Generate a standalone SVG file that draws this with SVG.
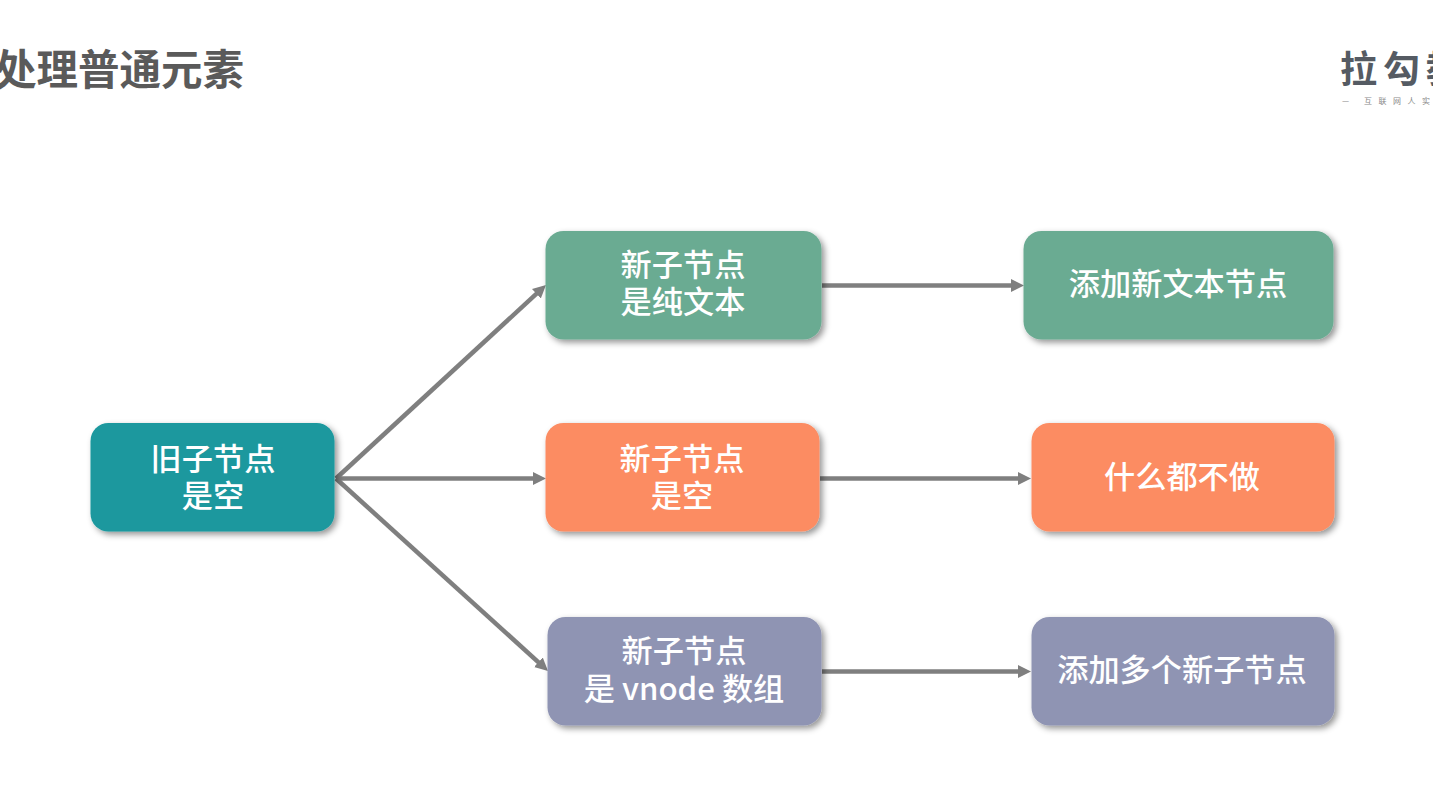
<svg xmlns="http://www.w3.org/2000/svg" width="1433" height="787" viewBox="0 0 1433 787">
<style>
text{font-family:"Noto Sans CJK SC","Noto Sans",sans-serif}
.n text{fill:#fff;font-size:31.2px;font-weight:500;text-anchor:middle}
.n rect{filter:url(#s)}
.c line{stroke:#7f7f7f;stroke-width:4.5;marker-end:url(#a)}
</style>
<defs>
<filter id="s" x="-10%" y="-20%" width="125%" height="145%"><feDropShadow dx="3" dy="3" stdDeviation="3" flood-color="#000" flood-opacity=".42"/></filter>
<marker id="a" markerUnits="userSpaceOnUse" markerWidth="16" markerHeight="16" refX="5" refY="8" orient="auto"><path d="M0 1.5L13 8L0 14.5Z" fill="#7f7f7f"/></marker>
</defs>
<rect width="1433" height="787" fill="#fff"/>
<text id="title" x="-5" y="85" font-size="41.5" font-weight="700" fill="#5a5a5a">处理普通元素</text>
<g id="logo">
<text x="1340" y="83" font-size="37" font-weight="700" letter-spacing="6" fill="#555b63">拉勾教</text>
<text x="1342" y="104" font-size="8" fill="#888">—</text>
<text x="1364" y="104" font-size="8" fill="#888" letter-spacing="6.5">互联网人实</text>
</g>
<g class="c" id="connectors">
<line x1="336" y1="478.500" x2="540.1" y2="290.4"/>
<line x1="336" y1="478.500" x2="538" y2="478.500"/>
<line x1="336" y1="478.500" x2="542.1" y2="665.6"/>
<line x1="822" y1="285.500" x2="1016" y2="285.500"/>
<line x1="820" y1="478.500" x2="1023" y2="478.500"/>
<line x1="822" y1="671.500" x2="1023" y2="671.500"/>
</g>
<g class="n" id="n0"><rect x="90.5" y="423" width="244" height="108.500" rx="18" fill="#1a989e"/><text x="213" y="470">旧子节点</text><text x="213" y="507">是空</text></g>
<g class="n" id="n1"><rect x="545.500" y="231" width="276" height="108.500" rx="18" fill="#6bab92"/><text x="683" y="276">新子节点</text><text x="683" y="313">是纯文本</text></g>
<g class="n" id="n2"><rect x="545.500" y="423" width="274" height="108.500" rx="18" fill="#fc8c62"/><text x="682" y="470">新子节点</text><text x="682" y="507">是空</text></g>
<g class="n" id="n3"><rect x="547.500" y="617" width="274" height="108.500" rx="18" fill="#8f94b3"/><text x="684" y="662">新子节点</text><text x="684" y="700">是 vnode 数组</text></g>
<g class="n" id="n4"><rect x="1023.500" y="231" width="310" height="108.500" rx="18" fill="#6bab92"/><text x="1178" y="295">添加新文本节点</text></g>
<g class="n" id="n5"><rect x="1031.500" y="423" width="303" height="108.500" rx="18" fill="#fc8c62"/><text x="1182" y="488">什么都不做</text></g>
<g class="n" id="n6"><rect x="1031.500" y="617" width="303" height="108.500" rx="18" fill="#8f94b3"/><text x="1182" y="681">添加多个新子节点</text></g>
</svg>
